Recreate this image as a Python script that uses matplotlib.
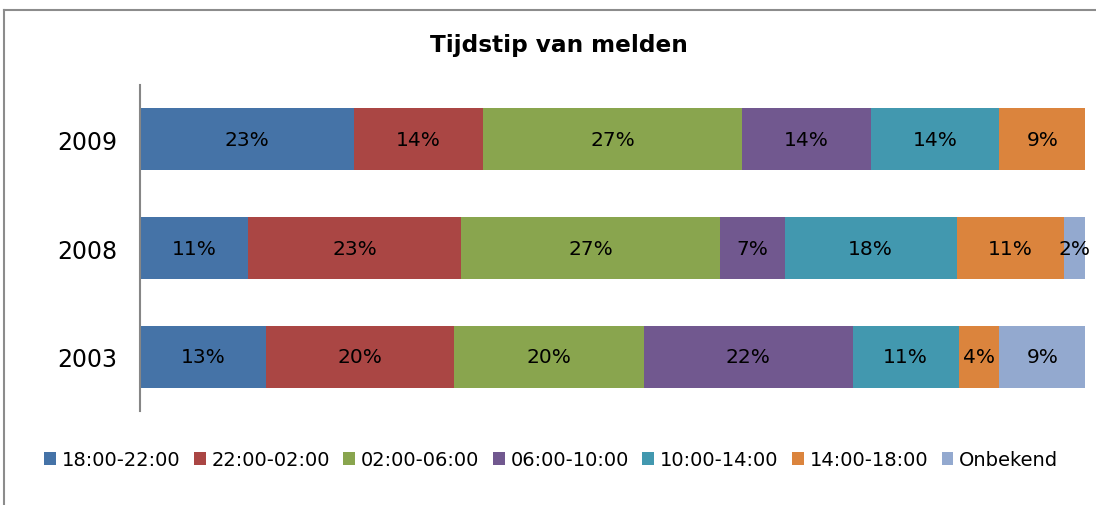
import matplotlib.pyplot as plt
from matplotlib.lines import Line2D

# data (percent of meldingen per time slot)
years = ['2003', '2008', '2009']
labels = ['18:00-22:00', '22:00-02:00', '02:00-06:00', '06:00-10:00',
          '10:00-14:00', '14:00-18:00', 'Onbekend']
colors = ['#4573a7', '#aa4644', '#89a54e', '#71588f', '#4298af', '#db843d', '#93a9cf']

s_1822 = [13.3, 11.4, 22.6]
s_2202 = [19.9, 22.6, 13.7]
s_0206 = [20.1, 27.4, 27.4]
s_0610 = [22.1, 6.8, 13.6]
s_1014 = [11.2, 18.2, 13.6]
s_1418 = [4.3, 11.3, 9.1]
s_onb = [9.1, 2.3, 0.0]
series = [s_1822, s_2202, s_0206, s_0610, s_1014, s_1418, s_onb]

plt.rcParams['font.family'] = ['DejaVu Sans']
fig = plt.figure(figsize=(10.96, 5.06), dpi=100)
ax = fig.add_axes([0.1277, 0.1848, 0.8625, 0.6462])

ypos = range(len(years))
left = [0.0] * len(years)
for vals, name, c in zip(series, labels, colors):
    bars = ax.barh(ypos, vals, left=left, height=0.57, color=c, label=name)
    for b, v in zip(bars, vals):
        if v > 0:
            ax.text(b.get_x() + b.get_width() / 2, b.get_y() + b.get_height() / 2,
                    '%d%%' % round(v), ha='center', va='center', fontsize=14.5)
    left = [l + v for l, v in zip(left, vals)]

ax.set_xlim(0, 100)
ax.set_ylim(-0.5, 2.5)
ax.set_yticks(list(ypos))
ax.set_yticklabels(years, fontsize=17)
ax.tick_params(axis='y', length=0, pad=16)
ax.set_xticks([])
for s in ['top', 'right', 'bottom']:
    ax.spines[s].set_visible(False)
ax.spines['left'].set_color('#868686')
ax.spines['left'].set_linewidth(1.5)

fig.text(0.51, 0.91, 'Tijdstip van melden', ha='center', va='center',
         fontsize=16.7, fontweight='bold')

fig.legend(loc='center', bbox_to_anchor=(0.503, 0.089), ncol=7, frameon=False,
           fontsize=14, handlelength=0.6, handleheight=0.6, handletextpad=0.3,
           columnspacing=0.7, borderpad=0)

# outer chart frame (top and left edges visible)
fig.add_artist(Line2D([0.0037, 1.0], [1 - 11 / 506, 1 - 11 / 506], color='#8c8c8c', lw=1.5,
                      transform=fig.transFigure))
fig.add_artist(Line2D([0.0037, 0.0037], [0.0, 1 - 11 / 506], color='#8c8c8c', lw=1.5,
                      transform=fig.transFigure))

fig.savefig('out.png', dpi=100)
